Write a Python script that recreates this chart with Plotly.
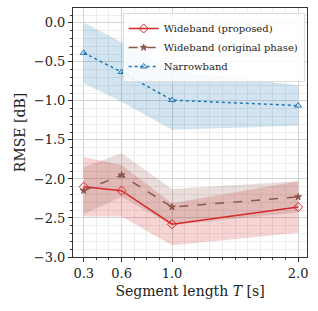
import plotly.graph_objects as go

seg_len = [0.3, 0.6, 1.0, 2.0]

prop_mean = [-2.10, -2.15, -2.58, -2.36]
prop_std = [0.38, 0.33, 0.27, 0.33]

orig_mean = [-2.15, -1.95, -2.36, -2.23]
orig_std = [0.30, 0.28, 0.23, 0.20]

narrow_mean = [-0.385, -0.63, -0.99, -1.06]
narrow_std = [0.39, 0.38, 0.38, 0.26]

x_ticks = [0.3, 0.6, 1.0, 2.0]
y_ticks = [0.0, -0.5, -1.0, -1.5, -2.0, -2.5, -3.0]

FONT = "DejaVu Serif"

series = [
    ("Wideband (proposed)", prop_mean, prop_std, "#d62728", "rgba(214,39,40,0.2)", "solid", "diamond-open", 7),
    ("Wideband (original phase)", orig_mean, orig_std, "#8c564b", "rgba(140,86,75,0.2)", "dash", "star", 5),
    ("Narrowband", narrow_mean, narrow_std, "#1f77b4", "rgba(31,119,180,0.2)", "dot", "triangle-up-open", 6),
]

fig = go.Figure()

for name, m, s, col, fcol, dash, sym, msz in series:
    upper = [a + b for a, b in zip(m, s)]
    lower = [a - b for a, b in zip(m, s)]
    fig.add_trace(go.Scatter(
        x=seg_len + seg_len[::-1], y=upper + lower[::-1],
        fill="toself", fillcolor=fcol, line=dict(width=0),
        mode="lines", hoverinfo="skip", showlegend=False))

for name, m, s, col, fcol, dash, sym, msz in series:
    fig.add_trace(go.Scatter(
        x=seg_len, y=m, name=name, mode="lines+markers",
        line=dict(color=col, width=1.5, dash=dash),
        marker=dict(symbol=sym, size=msz, color=col, line=dict(color=col, width=1))))

axis_common = dict(
    showline=True, linecolor="#333333", linewidth=1, mirror=True,
    ticks="outside", ticklen=4, tickcolor="#333333",
    showgrid=True, gridcolor="#d4d4d4", gridwidth=1, zeroline=False,
    tickfont=dict(family=FONT, size=13, color="#222222"),
    automargin=False,
)

fig.update_xaxes(
    **axis_common,
    range=[0.215, 2.07],
    tickvals=x_ticks, ticktext=[f"{v:.1f}" for v in x_ticks],
    minor=dict(dtick=0.1, tick0=0, showgrid=True, gridcolor="#ededed",
               ticks="outside", ticklen=2, tickcolor="#333333"),
    title=dict(text="Segment length <i>T</i> [s]",
               font=dict(family=FONT, size=14, color="#222222"), standoff=6),
)
fig.update_yaxes(
    **axis_common,
    range=[-3.0, 0.19],
    tickvals=y_ticks, ticktext=[f"{v:.1f}".replace("-", "\u2212") for v in y_ticks],
    minor=dict(dtick=0.1, tick0=0, showgrid=True, gridcolor="#ededed",
               ticks="outside", ticklen=2, tickcolor="#333333"),
    title=dict(text="RMSE [dB]",
               font=dict(family=FONT, size=14, color="#222222"), standoff=4),
)

fig.update_layout(
    width=318, height=311,
    margin=dict(l=73, r=11, t=8, b=54, autoexpand=False),
    paper_bgcolor="white", plot_bgcolor="white",
    font=dict(family=FONT),
    legend=dict(
        x=0.99, y=0.98, xanchor="right", yanchor="top",
        bgcolor="rgba(255,255,255,0.85)", bordercolor="#dddddd", borderwidth=1,
        font=dict(family=FONT, size=10, color="#222222"),
        itemwidth=30, tracegroupgap=0,
    ),
)

fig.write_html("out.html", config={"displayModeBar": False},
               post_script="document.body.style.margin='0';document.body.style.padding='0';")
